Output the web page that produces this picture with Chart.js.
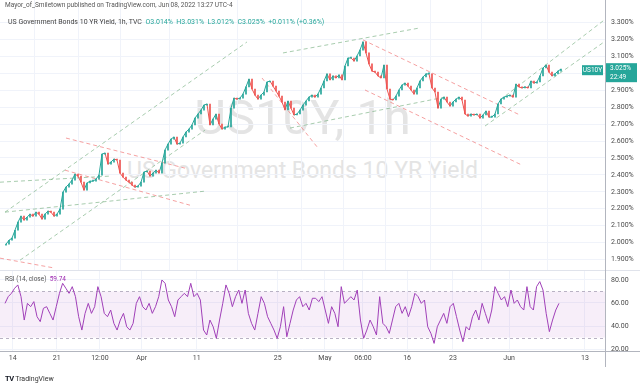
<!DOCTYPE html>
<html><head><meta charset="utf-8">
<script src="https://cdn.jsdelivr.net/npm/chart.js@4"></script>
<style>
html,body{margin:0;padding:0;background:#fff;width:640px;height:384px;overflow:hidden;font-family:Roboto,"Liberation Sans",Arial,sans-serif}
#wrap{position:relative;width:640px;height:384px}
.abs{position:absolute;white-space:nowrap}
canvas{position:absolute;left:0}
.wm1{left:0;width:605px;text-align:center;top:92px;font-size:49px;color:#e4e4e4;line-height:52px}
.wm2{left:0;width:605px;text-align:center;top:158px;font-size:23px;color:#e4e4e4;line-height:26px}
.h1{left:5px;top:1px;font-size:6.5px;color:#555}
.h2{left:8px;top:18px;font-size:7px;color:#444}
.h2 span{color:#26a69a}
.rsil{left:5px;top:275px;font-size:6.5px;color:#555}
.rsil span{color:#9c27b0}
.logo{left:5px;top:374px;font-size:7px;color:#333}
.logo b{font-size:7.5px;color:#131722;letter-spacing:-0.5px}
.ln{position:absolute;background:#e0e3eb}
</style></head><body>
<div id="wrap">
 <div class="abs wm1">US10Y, 1h</div>
 <div class="abs wm2">US Government Bonds 10 YR Yield</div>
 <canvas id="pc" width="640" height="271" style="top:0;width:640px;height:271px"></canvas>
 <canvas id="rc" width="640" height="113" style="top:271px;width:640px;height:113px"></canvas>
 <div class="ln" style="left:0;top:270px;width:640px;height:1px"></div>
 <div class="ln" style="left:0;top:351px;width:640px;height:1px;background:#b2b5be"></div>
 <div class="ln" style="left:605px;top:0;width:1px;height:367px;background:#b2b5be"></div>
 <div class="abs h1">Mayor_of_Smiletown published on TradingView.com, Jun 08, 2022 13:27 UTC-4</div>
 <div class="abs h2">US Government Bonds 10 YR Yield, 1h, TVC&nbsp; <span>O3.014% &nbsp;H3.031% &nbsp;L3.012% &nbsp;C3.025% &nbsp;+0.011% (+0.36%)</span></div>
 <div class="abs rsil">RSI (14, close)&nbsp; <span>59.74</span></div>
 <div class="abs logo"><b>TV</b> TradingView</div>
</div>
<script>
// ---- data ----
const timeTickPos = [2.23,16.9,31.3,45.2,63.6,90.6,106.3,119,133.7,149,167.7,193];
const timeTickLabels = ['14','21','12:00','Apr','11','25','May','06:00','16','23','Jun','13'];
const priceTicks = [1.9,2.0,2.1,2.2,2.3,2.4,2.5,2.6,2.7,2.8,2.9,3.0,3.1,3.2,3.3];
const rsiTicks = [20,40,60,80];
const firstOpen = 1.985;
const closes = [1.990,2.014,2.026,2.073,2.121,2.156,2.133,2.150,2.168,2.156,
2.180,2.168,2.139,2.168,2.186,2.180,2.156,2.168,2.198,2.298,
2.328,2.346,2.369,2.405,2.393,2.357,2.310,2.352,2.363,2.363,
2.375,2.399,2.523,2.529,2.464,2.476,2.494,2.488,2.411,2.387,
2.369,2.357,2.340,2.328,2.334,2.357,2.417,2.423,2.393,2.411,
2.428,2.411,2.470,2.547,2.582,2.612,2.624,2.582,2.588,2.624,
2.653,2.671,2.695,2.736,2.760,2.783,2.813,2.819,2.695,2.730,
2.760,2.701,2.671,2.683,2.683,2.795,2.854,2.848,2.854,2.878,
2.920,2.967,2.908,2.872,2.848,2.872,2.890,2.949,2.955,2.925,
2.896,2.866,2.831,2.784,2.837,2.795,2.754,2.760,2.783,2.813,
2.837,2.860,2.872,2.860,2.878,2.914,2.955,2.997,2.961,2.985,
2.973,2.991,2.961,3.044,3.091,3.091,3.073,3.103,3.138,3.186,
3.121,3.056,3.014,3.008,2.985,2.973,3.050,2.908,2.848,2.843,
2.866,2.902,2.931,2.943,2.925,2.902,2.878,2.914,2.955,2.979,
2.997,2.997,2.914,2.890,2.795,2.848,2.860,2.831,2.807,2.831,
2.848,2.860,2.843,2.760,2.748,2.760,2.754,2.760,2.736,2.754,
2.778,2.742,2.742,2.760,2.819,2.848,2.860,2.866,2.872,2.860,
2.937,2.920,2.914,2.920,2.914,2.955,2.943,2.949,2.985,3.032,
3.050,3.008,2.985,2.997,3.014,3.025];
const rsiValues = [59.7,65.5,68.4,72.8,75.7,65.5,45.2,59.7,56.8,61.2,
48.1,43.8,55.4,56.8,51.0,45.2,56.8,68.4,77.1,72.8,
68.4,74.2,65.5,48.1,36.5,51.0,59.7,51.0,56.8,74.2,
65.5,51.0,48.1,53.9,42.3,36.5,45.2,51.0,39.4,36.5,
42.3,59.7,65.5,56.8,53.9,59.7,51.0,56.8,65.5,80.0,
77.1,62.6,56.8,48.1,62.6,65.5,68.4,65.5,77.1,65.5,
68.4,62.6,36.5,32.2,45.2,39.4,29.3,45.2,59.7,75.7,
68.4,56.8,65.5,71.3,59.7,71.3,51.0,42.3,36.5,51.0,
65.5,59.7,48.1,42.3,36.5,29.3,39.4,56.8,30.7,42.3,
53.9,62.6,65.5,56.8,59.7,53.9,64.1,
64.1,61.2,65.5,53.9,42.3,56.8,51.0,39.4,74.2,59.7,
62.6,65.5,62.6,71.3,45.2,29.3,36.5,45.2,39.4,32.2,
65.5,42.3,39.4,33.6,45.2,56.8,59.7,51.0,56.8,48.1,
56.8,68.4,65.5,59.7,62.6,39.4,33.6,24.9,39.4,45.2,
51.0,42.3,56.8,59.7,48.1,36.5,26.4,39.4,36.5,48.1,
53.9,45.2,59.7,51.0,42.3,53.9,74.2,68.4,62.6,65.5,
56.8,71.3,59.7,62.6,56.8,53.9,74.2,56.8,53.9,74.2,
78.6,71.3,51.0,35.1,45.2,53.9,59.7];
const rsiStartX = -0.33;
const rsiStepX = 1.0674;
const rsiUpper = 70, rsiLower = 30;
const greenLines = [
 [[-0.33,2.180],[80.33,3.186]],
 [[4.67,1.896],[66.33,2.665]],
 [[-0.33,2.180],[66.33,2.304]],
 [[-2,2.357],[34.67,2.393]],
 [[92.33,3.121],[138,3.269]],
 [[94.67,2.677],[146.33,2.860]],
 [[164.67,2.843],[200.33,3.328]],
 [[159.67,2.689],[200.33,3.198]]
];
const redLines = [
 [[20,2.618],[59.67,2.440]],
 [[19.67,2.428],[61.33,2.221]],
 [[-2,1.908],[16.33,1.849]],
 [[119,3.198],[171.33,2.754]],
 [[119.67,2.902],[172,2.458]],
 [[85.33,2.973],[104,2.559]]
];
const countdown = '22:49';

// ---- styles ----
const UP = '#26a69a', DOWN = '#ef5350', GRID = '#f0f3fa';
const X_MIN = -2, X_MAX = 199.67;
const AXIS_FONT = '7px Roboto, "Liberation Sans", Arial, sans-serif';
Chart.defaults.font.family = 'Roboto, "Liberation Sans", Arial, sans-serif';

function lineDs(pts, color){
  return {type:'line', data: pts.map(p=>({x:p[0], y:p[1]})), borderColor: color, borderWidth: 1,
    borderDash:[4,3], pointRadius:0, fill:false, order:3};
}
const xScale = (showLabels) => ({
  type:'linear', min:X_MIN, max:X_MAX, offset:false,
  grid:{color:GRID, drawTicks:false}, border:{display:false},
  afterBuildTicks: s => { s.ticks = timeTickPos.map(v=>({value:v})); },
  afterFit: s => { s.height = showLabels ? 10 : 0; s.paddingLeft = 0; s.paddingRight = 0; },
  ticks: showLabels ? {autoSkip:false, maxRotation:0, font:{size:7}, color:'#4a4a4a', padding:3,
    callback: v => timeTickLabels[timeTickPos.indexOf(v)]} : {display:false}
});
const yScale = (min, max, ticks) => ({
  position:'right', min, max,
  grid:{color:GRID, drawTicks:false}, border:{display:false},
  afterBuildTicks: s => { s.ticks = ticks.map(v=>({value:v})); },
  ticks:{display:false},
  afterFit: s => { s.width = 35; }
});
// draws the right-axis tick labels (keeps the plot area free of label padding)
const axisLabels = (ticks, fmt) => ({id:'axisLabels', afterDraw(c){
  const ctx = c.ctx, a = c.chartArea, y = c.scales.y;
  ctx.save();
  ctx.font = AXIS_FONT; ctx.fillStyle = '#4a4a4a';
  ctx.textAlign = 'left'; ctx.textBaseline = 'middle';
  ticks.forEach(v => ctx.fillText(fmt(v), a.right + 6, y.getPixelForValue(v)));
  ctx.restore();
}});

const lastLabel = {id:'lastLabel', afterDraw(c){
  const ctx = c.ctx, a = c.chartArea, last = closes[closes.length-1];
  const y = c.scales.y.getPixelForValue(last);
  ctx.save();
  ctx.fillStyle = UP;
  ctx.fillRect(a.right, y-6, 32, 19);
  ctx.fillRect(a.right-23, y-4, 21, 10);
  ctx.fillStyle = '#fff';
  ctx.font = '6.5px Roboto, Arial, sans-serif';
  ctx.textBaseline = 'middle';
  ctx.textAlign = 'center';
  ctx.fillText('US10Y', a.right-12.5, y+1);
  ctx.textAlign = 'left';
  ctx.fillText(last.toFixed(3)+'%', a.right+5, y-1);
  ctx.fillText(countdown, a.right+5, y+8);
  ctx.restore();
}};

new Chart(document.getElementById('pc'), {
  type:'bar',
  data:{datasets:[
    ...greenLines.map(l=>lineDs(l,'rgba(110,170,120,0.6)')),
    ...redLines.map(l=>lineDs(l,'rgba(240,110,110,0.65)')),
    {type:'line', order:2, borderWidth:1, pointRadius:0, tension:0,
     data: closes.map((c,i)=>({x:i, y:c})),
     segment:{borderColor: s => s.p1.parsed.y < s.p0.parsed.y ? DOWN : UP}},
    {type:'bar', order:1, barThickness:1, minBarLength:1,
     data: closes.map((c,i)=>({x:i, y:[i ? closes[i-1] : firstOpen, c]})),
     backgroundColor: ctx => { const r = ctx.raw; return (r && r.y[1] < r.y[0]) ? DOWN : UP; }}
  ]},
  options:{
    responsive:false, animation:false, events:[],
    plugins:{legend:{display:false}, tooltip:{enabled:false}},
    layout:{padding:0},
    scales:{ x: xScale(false), y: yScale(1.832, 3.434, priceTicks) }
  },
  plugins:[axisLabels(priceTicks, v => v.toFixed(3)+'%'), lastLabel]
});

const rsiBand = {id:'rsiBand', beforeDatasetsDraw(c){
  const ctx = c.ctx, a = c.chartArea, y = c.scales.y;
  const t = y.getPixelForValue(rsiUpper), b = y.getPixelForValue(rsiLower);
  ctx.save();
  ctx.fillStyle = 'rgba(156,39,176,0.08)';
  ctx.fillRect(a.left, t, a.width, b-t);
  ctx.strokeStyle = '#b9b2c4'; ctx.lineWidth = 1; ctx.setLineDash([3,3]);
  ctx.beginPath(); ctx.moveTo(a.left, Math.round(t)+0.5); ctx.lineTo(a.right, Math.round(t)+0.5);
  ctx.moveTo(a.left, Math.round(b)+0.5); ctx.lineTo(a.right, Math.round(b)+0.5); ctx.stroke();
  ctx.restore();
}};

new Chart(document.getElementById('rc'), {
  type:'line',
  data:{datasets:[{data: rsiValues.map((v,j)=>({x: rsiStartX + j*rsiStepX, y:v})),
    borderColor:'#a040b8', borderWidth:1, pointRadius:0, tension:0, fill:false}]},
  options:{
    responsive:false, animation:false, events:[],
    plugins:{legend:{display:false}, tooltip:{enabled:false}},
    layout:{padding:{bottom:23}},
    scales:{ x: xScale(true), y: yScale(18.3, 87.8, rsiTicks) }
  },
  plugins:[rsiBand, axisLabels(rsiTicks, v => v.toFixed(2))]
});
</script>
</body></html>
